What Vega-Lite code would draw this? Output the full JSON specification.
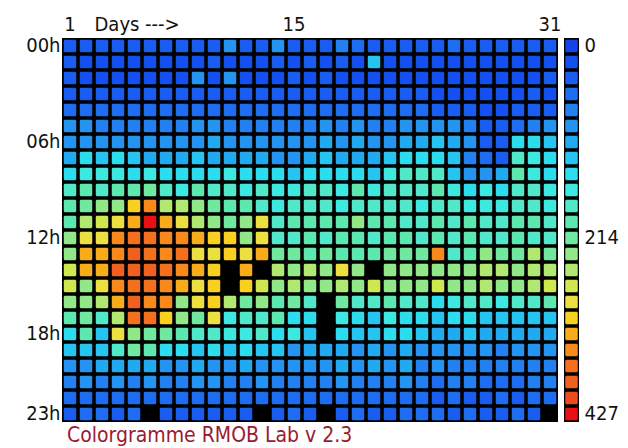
{
"$schema": "https://vega.github.io/schema/vega-lite/v6.json",
"background": "white",
"padding": {"left": 25, "top": 14, "right": 5, "bottom": 5},
"config": {"view": {"stroke": null}, "concat": {"spacing": 3},
  "axis": {"labelFont": "DejaVu Sans Condensed, Liberation Sans, sans-serif", "labelFontSize": 20, "labelColor": "#111111", "ticks": false, "domain": false, "grid": false, "titleFont": "DejaVu Sans Condensed, Liberation Sans, sans-serif", "titleFontSize": 20, "titleFontWeight": "normal", "titleColor": "#111111"}},
"datasets": {
"scale": [{"i":0,"v":0},{"i":1,"v":19},{"i":2,"v":37},{"i":3,"v":56},{"i":4,"v":74},{"i":5,"v":93},{"i":6,"v":111},{"i":7,"v":130},{"i":8,"v":149},{"i":9,"v":167},{"i":10,"v":186},{"i":11,"v":204},{"i":12,"v":223},{"i":13,"v":241},{"i":14,"v":260},{"i":15,"v":278},{"i":16,"v":297},{"i":17,"v":316},{"i":18,"v":334},{"i":19,"v":353},{"i":20,"v":371},{"i":21,"v":390},{"i":22,"v":408},{"i":23,"v":427}],
"cells": [
{"d":1,"h":0,"c":44},{"d":2,"h":0,"c":44},{"d":3,"h":0,"c":44},{"d":4,"h":0,"c":44},{"d":5,"h":0,"c":44},{"d":6,"h":0,"c":44},{"d":7,"h":0,"c":44},{"d":8,"h":0,"c":44},{"d":9,"h":0,"c":44},{"d":10,"h":0,"c":44},{"d":11,"h":0,"c":98},{"d":12,"h":0,"c":44},{"d":13,"h":0,"c":44},{"d":14,"h":0,"c":98},{"d":15,"h":0,"c":44},{"d":16,"h":0,"c":44},{"d":17,"h":0,"c":44},{"d":18,"h":0,"c":80},{"d":19,"h":0,"c":62},{"d":20,"h":0,"c":44},{"d":21,"h":0,"c":44},{"d":22,"h":0,"c":44},{"d":23,"h":0,"c":44},{"d":24,"h":0,"c":44},{"d":25,"h":0,"c":62},{"d":26,"h":0,"c":44},{"d":27,"h":0,"c":44},{"d":28,"h":0,"c":44},{"d":29,"h":0,"c":44},{"d":30,"h":0,"c":44},{"d":31,"h":0,"c":44},
{"d":1,"h":1,"c":44},{"d":2,"h":1,"c":27},{"d":3,"h":1,"c":27},{"d":4,"h":1,"c":27},{"d":5,"h":1,"c":27},{"d":6,"h":1,"c":27},{"d":7,"h":1,"c":27},{"d":8,"h":1,"c":27},{"d":9,"h":1,"c":27},{"d":10,"h":1,"c":44},{"d":11,"h":1,"c":27},{"d":12,"h":1,"c":27},{"d":13,"h":1,"c":27},{"d":14,"h":1,"c":44},{"d":15,"h":1,"c":27},{"d":16,"h":1,"c":44},{"d":17,"h":1,"c":27},{"d":18,"h":1,"c":44},{"d":19,"h":1,"c":27},{"d":20,"h":1,"c":133},{"d":21,"h":1,"c":27},{"d":22,"h":1,"c":27},{"d":23,"h":1,"c":27},{"d":24,"h":1,"c":27},{"d":25,"h":1,"c":27},{"d":26,"h":1,"c":27},{"d":27,"h":1,"c":27},{"d":28,"h":1,"c":27},{"d":29,"h":1,"c":27},{"d":30,"h":1,"c":27},{"d":31,"h":1,"c":27},
{"d":1,"h":2,"c":44},{"d":2,"h":2,"c":27},{"d":3,"h":2,"c":27},{"d":4,"h":2,"c":27},{"d":5,"h":2,"c":27},{"d":6,"h":2,"c":27},{"d":7,"h":2,"c":27},{"d":8,"h":2,"c":27},{"d":9,"h":2,"c":98},{"d":10,"h":2,"c":27},{"d":11,"h":2,"c":98},{"d":12,"h":2,"c":27},{"d":13,"h":2,"c":27},{"d":14,"h":2,"c":27},{"d":15,"h":2,"c":44},{"d":16,"h":2,"c":27},{"d":17,"h":2,"c":44},{"d":18,"h":2,"c":27},{"d":19,"h":2,"c":27},{"d":20,"h":2,"c":27},{"d":21,"h":2,"c":27},{"d":22,"h":2,"c":27},{"d":23,"h":2,"c":27},{"d":24,"h":2,"c":27},{"d":25,"h":2,"c":27},{"d":26,"h":2,"c":27},{"d":27,"h":2,"c":27},{"d":28,"h":2,"c":27},{"d":29,"h":2,"c":27},{"d":30,"h":2,"c":27},{"d":31,"h":2,"c":44},
{"d":1,"h":3,"c":44},{"d":2,"h":3,"c":44},{"d":3,"h":3,"c":44},{"d":4,"h":3,"c":44},{"d":5,"h":3,"c":44},{"d":6,"h":3,"c":44},{"d":7,"h":3,"c":44},{"d":8,"h":3,"c":44},{"d":9,"h":3,"c":44},{"d":10,"h":3,"c":44},{"d":11,"h":3,"c":44},{"d":12,"h":3,"c":44},{"d":13,"h":3,"c":44},{"d":14,"h":3,"c":44},{"d":15,"h":3,"c":44},{"d":16,"h":3,"c":44},{"d":17,"h":3,"c":44},{"d":18,"h":3,"c":44},{"d":19,"h":3,"c":44},{"d":20,"h":3,"c":44},{"d":21,"h":3,"c":44},{"d":22,"h":3,"c":44},{"d":23,"h":3,"c":44},{"d":24,"h":3,"c":27},{"d":25,"h":3,"c":27},{"d":26,"h":3,"c":27},{"d":27,"h":3,"c":27},{"d":28,"h":3,"c":27},{"d":29,"h":3,"c":27},{"d":30,"h":3,"c":44},{"d":31,"h":3,"c":27},
{"d":1,"h":4,"c":62},{"d":2,"h":4,"c":62},{"d":3,"h":4,"c":62},{"d":4,"h":4,"c":62},{"d":5,"h":4,"c":62},{"d":6,"h":4,"c":62},{"d":7,"h":4,"c":62},{"d":8,"h":4,"c":62},{"d":9,"h":4,"c":62},{"d":10,"h":4,"c":62},{"d":11,"h":4,"c":62},{"d":12,"h":4,"c":62},{"d":13,"h":4,"c":62},{"d":14,"h":4,"c":62},{"d":15,"h":4,"c":62},{"d":16,"h":4,"c":62},{"d":17,"h":4,"c":62},{"d":18,"h":4,"c":62},{"d":19,"h":4,"c":62},{"d":20,"h":4,"c":62},{"d":21,"h":4,"c":62},{"d":22,"h":4,"c":62},{"d":23,"h":4,"c":62},{"d":24,"h":4,"c":44},{"d":25,"h":4,"c":44},{"d":26,"h":4,"c":44},{"d":27,"h":4,"c":27},{"d":28,"h":4,"c":27},{"d":29,"h":4,"c":44},{"d":30,"h":4,"c":44},{"d":31,"h":4,"c":44},
{"d":1,"h":5,"c":98},{"d":2,"h":5,"c":98},{"d":3,"h":5,"c":80},{"d":4,"h":5,"c":80},{"d":5,"h":5,"c":80},{"d":6,"h":5,"c":80},{"d":7,"h":5,"c":80},{"d":8,"h":5,"c":80},{"d":9,"h":5,"c":98},{"d":10,"h":5,"c":98},{"d":11,"h":5,"c":80},{"d":12,"h":5,"c":80},{"d":13,"h":5,"c":80},{"d":14,"h":5,"c":80},{"d":15,"h":5,"c":80},{"d":16,"h":5,"c":80},{"d":17,"h":5,"c":98},{"d":18,"h":5,"c":80},{"d":19,"h":5,"c":98},{"d":20,"h":5,"c":80},{"d":21,"h":5,"c":80},{"d":22,"h":5,"c":98},{"d":23,"h":5,"c":98},{"d":24,"h":5,"c":98},{"d":25,"h":5,"c":98},{"d":26,"h":5,"c":80},{"d":27,"h":5,"c":44},{"d":28,"h":5,"c":44},{"d":29,"h":5,"c":62},{"d":30,"h":5,"c":80},{"d":31,"h":5,"c":98},
{"d":1,"h":6,"c":98},{"d":2,"h":6,"c":98},{"d":3,"h":6,"c":98},{"d":4,"h":6,"c":98},{"d":5,"h":6,"c":98},{"d":6,"h":6,"c":98},{"d":7,"h":6,"c":98},{"d":8,"h":6,"c":98},{"d":9,"h":6,"c":98},{"d":10,"h":6,"c":116},{"d":11,"h":6,"c":98},{"d":12,"h":6,"c":98},{"d":13,"h":6,"c":98},{"d":14,"h":6,"c":98},{"d":15,"h":6,"c":98},{"d":16,"h":6,"c":98},{"d":17,"h":6,"c":116},{"d":18,"h":6,"c":98},{"d":19,"h":6,"c":116},{"d":20,"h":6,"c":98},{"d":21,"h":6,"c":98},{"d":22,"h":6,"c":116},{"d":23,"h":6,"c":116},{"d":24,"h":6,"c":133},{"d":25,"h":6,"c":116},{"d":26,"h":6,"c":98},{"d":27,"h":6,"c":44},{"d":28,"h":6,"c":44},{"d":29,"h":6,"c":151},{"d":30,"h":6,"c":151},{"d":31,"h":6,"c":133},
{"d":1,"h":7,"c":116},{"d":2,"h":7,"c":151},{"d":3,"h":7,"c":133},{"d":4,"h":7,"c":151},{"d":5,"h":7,"c":133},{"d":6,"h":7,"c":116},{"d":7,"h":7,"c":116},{"d":8,"h":7,"c":116},{"d":9,"h":7,"c":133},{"d":10,"h":7,"c":116},{"d":11,"h":7,"c":116},{"d":12,"h":7,"c":116},{"d":13,"h":7,"c":116},{"d":14,"h":7,"c":98},{"d":15,"h":7,"c":98},{"d":16,"h":7,"c":116},{"d":17,"h":7,"c":133},{"d":18,"h":7,"c":116},{"d":19,"h":7,"c":116},{"d":20,"h":7,"c":116},{"d":21,"h":7,"c":133},{"d":22,"h":7,"c":151},{"d":23,"h":7,"c":151},{"d":24,"h":7,"c":151},{"d":25,"h":7,"c":133},{"d":26,"h":7,"c":80},{"d":27,"h":7,"c":62},{"d":28,"h":7,"c":44},{"d":29,"h":7,"c":187},{"d":30,"h":7,"c":169},{"d":31,"h":7,"c":151},
{"d":1,"h":8,"c":151},{"d":2,"h":8,"c":169},{"d":3,"h":8,"c":169},{"d":4,"h":8,"c":169},{"d":5,"h":8,"c":151},{"d":6,"h":8,"c":169},{"d":7,"h":8,"c":151},{"d":8,"h":8,"c":151},{"d":9,"h":8,"c":151},{"d":10,"h":8,"c":151},{"d":11,"h":8,"c":169},{"d":12,"h":8,"c":151},{"d":13,"h":8,"c":151},{"d":14,"h":8,"c":151},{"d":15,"h":8,"c":133},{"d":16,"h":8,"c":151},{"d":17,"h":8,"c":151},{"d":18,"h":8,"c":151},{"d":19,"h":8,"c":151},{"d":20,"h":8,"c":133},{"d":21,"h":8,"c":169},{"d":22,"h":8,"c":187},{"d":23,"h":8,"c":187},{"d":24,"h":8,"c":187},{"d":25,"h":8,"c":133},{"d":26,"h":8,"c":98},{"d":27,"h":8,"c":98},{"d":28,"h":8,"c":116},{"d":29,"h":8,"c":205},{"d":30,"h":8,"c":169},{"d":31,"h":8,"c":151},
{"d":1,"h":9,"c":187},{"d":2,"h":9,"c":205},{"d":3,"h":9,"c":187},{"d":4,"h":9,"c":205},{"d":5,"h":9,"c":205},{"d":6,"h":9,"c":222},{"d":7,"h":9,"c":187},{"d":8,"h":9,"c":169},{"d":9,"h":9,"c":205},{"d":10,"h":9,"c":187},{"d":11,"h":9,"c":187},{"d":12,"h":9,"c":169},{"d":13,"h":9,"c":187},{"d":14,"h":9,"c":169},{"d":15,"h":9,"c":169},{"d":16,"h":9,"c":187},{"d":17,"h":9,"c":187},{"d":18,"h":9,"c":169},{"d":19,"h":9,"c":205},{"d":20,"h":9,"c":169},{"d":21,"h":9,"c":187},{"d":22,"h":9,"c":187},{"d":23,"h":9,"c":187},{"d":24,"h":9,"c":205},{"d":25,"h":9,"c":169},{"d":26,"h":9,"c":151},{"d":27,"h":9,"c":169},{"d":28,"h":9,"c":151},{"d":29,"h":9,"c":187},{"d":30,"h":9,"c":187},{"d":31,"h":9,"c":169},
{"d":1,"h":10,"c":205},{"d":2,"h":10,"c":222},{"d":3,"h":10,"c":240},{"d":4,"h":10,"c":240},{"d":5,"h":10,"c":311},{"d":6,"h":10,"c":347},{"d":7,"h":10,"c":258},{"d":8,"h":10,"c":258},{"d":9,"h":10,"c":240},{"d":10,"h":10,"c":222},{"d":11,"h":10,"c":205},{"d":12,"h":10,"c":205},{"d":13,"h":10,"c":187},{"d":14,"h":10,"c":169},{"d":15,"h":10,"c":187},{"d":16,"h":10,"c":187},{"d":17,"h":10,"c":187},{"d":18,"h":10,"c":169},{"d":19,"h":10,"c":187},{"d":20,"h":10,"c":187},{"d":21,"h":10,"c":187},{"d":22,"h":10,"c":187},{"d":23,"h":10,"c":169},{"d":24,"h":10,"c":187},{"d":25,"h":10,"c":187},{"d":26,"h":10,"c":169},{"d":27,"h":10,"c":169},{"d":28,"h":10,"c":169},{"d":29,"h":10,"c":187},{"d":30,"h":10,"c":187},{"d":31,"h":10,"c":169},
{"d":1,"h":11,"c":205},{"d":2,"h":11,"c":258},{"d":3,"h":11,"c":276},{"d":4,"h":11,"c":294},{"d":5,"h":11,"c":329},{"d":6,"h":11,"c":418},{"d":7,"h":11,"c":329},{"d":8,"h":11,"c":294},{"d":9,"h":11,"c":258},{"d":10,"h":11,"c":240},{"d":11,"h":11,"c":222},{"d":12,"h":11,"c":240},{"d":13,"h":11,"c":294},{"d":14,"h":11,"c":187},{"d":15,"h":11,"c":205},{"d":16,"h":11,"c":205},{"d":17,"h":11,"c":205},{"d":18,"h":11,"c":205},{"d":19,"h":11,"c":240},{"d":20,"h":11,"c":205},{"d":21,"h":11,"c":205},{"d":22,"h":11,"c":187},{"d":23,"h":11,"c":187},{"d":24,"h":11,"c":205},{"d":25,"h":11,"c":187},{"d":26,"h":11,"c":205},{"d":27,"h":11,"c":187},{"d":28,"h":11,"c":187},{"d":29,"h":11,"c":205},{"d":30,"h":11,"c":205},{"d":31,"h":11,"c":187},
{"d":1,"h":12,"c":240},{"d":2,"h":12,"c":294},{"d":3,"h":12,"c":294},{"d":4,"h":12,"c":347},{"d":5,"h":12,"c":365},{"d":6,"h":12,"c":365},{"d":7,"h":12,"c":347},{"d":8,"h":12,"c":347},{"d":9,"h":12,"c":329},{"d":10,"h":12,"c":311},{"d":11,"h":12,"c":311},{"d":12,"h":12,"c":240},{"d":13,"h":12,"c":294},{"d":14,"h":12,"c":187},{"d":15,"h":12,"c":187},{"d":16,"h":12,"c":205},{"d":17,"h":12,"c":187},{"d":18,"h":12,"c":205},{"d":19,"h":12,"c":205},{"d":20,"h":12,"c":187},{"d":21,"h":12,"c":205},{"d":22,"h":12,"c":205},{"d":23,"h":12,"c":187},{"d":24,"h":12,"c":205},{"d":25,"h":12,"c":187},{"d":26,"h":12,"c":205},{"d":27,"h":12,"c":187},{"d":28,"h":12,"c":187},{"d":29,"h":12,"c":205},{"d":30,"h":12,"c":187},{"d":31,"h":12,"c":187},
{"d":1,"h":13,"c":240},{"d":2,"h":13,"c":329},{"d":3,"h":13,"c":329},{"d":4,"h":13,"c":347},{"d":5,"h":13,"c":383},{"d":6,"h":13,"c":365},{"d":7,"h":13,"c":347},{"d":8,"h":13,"c":365},{"d":9,"h":13,"c":294},{"d":10,"h":13,"c":294},{"d":11,"h":13,"c":311},{"d":12,"h":13,"c":294},{"d":13,"h":13,"c":329},{"d":14,"h":13,"c":222},{"d":15,"h":13,"c":222},{"d":16,"h":13,"c":205},{"d":17,"h":13,"c":222},{"d":18,"h":13,"c":205},{"d":19,"h":13,"c":205},{"d":20,"h":13,"c":205},{"d":21,"h":13,"c":222},{"d":22,"h":13,"c":222},{"d":23,"h":13,"c":222},{"d":24,"h":13,"c":347},{"d":25,"h":13,"c":187},{"d":26,"h":13,"c":205},{"d":27,"h":13,"c":240},{"d":28,"h":13,"c":222},{"d":29,"h":13,"c":222},{"d":30,"h":13,"c":258},{"d":31,"h":13,"c":222},
{"d":1,"h":14,"c":276},{"d":2,"h":14,"c":329},{"d":3,"h":14,"c":329},{"d":4,"h":14,"c":383},{"d":5,"h":14,"c":383},{"d":6,"h":14,"c":383},{"d":7,"h":14,"c":365},{"d":8,"h":14,"c":347},{"d":9,"h":14,"c":329},{"d":10,"h":14,"c":311},{"d":11,"h":14,"c":null},{"d":12,"h":14,"c":329},{"d":13,"h":14,"c":null},{"d":14,"h":14,"c":258},{"d":15,"h":14,"c":240},{"d":16,"h":14,"c":258},{"d":17,"h":14,"c":240},{"d":18,"h":14,"c":294},{"d":19,"h":14,"c":240},{"d":20,"h":14,"c":null},{"d":21,"h":14,"c":240},{"d":22,"h":14,"c":240},{"d":23,"h":14,"c":240},{"d":24,"h":14,"c":240},{"d":25,"h":14,"c":240},{"d":26,"h":14,"c":240},{"d":27,"h":14,"c":258},{"d":28,"h":14,"c":258},{"d":29,"h":14,"c":240},{"d":30,"h":14,"c":258},{"d":31,"h":14,"c":258},
{"d":1,"h":15,"c":276},{"d":2,"h":15,"c":240},{"d":3,"h":15,"c":294},{"d":4,"h":15,"c":347},{"d":5,"h":15,"c":365},{"d":6,"h":15,"c":365},{"d":7,"h":15,"c":347},{"d":8,"h":15,"c":329},{"d":9,"h":15,"c":294},{"d":10,"h":15,"c":311},{"d":11,"h":15,"c":null},{"d":12,"h":15,"c":311},{"d":13,"h":15,"c":276},{"d":14,"h":15,"c":240},{"d":15,"h":15,"c":258},{"d":16,"h":15,"c":240},{"d":17,"h":15,"c":240},{"d":18,"h":15,"c":258},{"d":19,"h":15,"c":240},{"d":20,"h":15,"c":276},{"d":21,"h":15,"c":240},{"d":22,"h":15,"c":240},{"d":23,"h":15,"c":240},{"d":24,"h":15,"c":276},{"d":25,"h":15,"c":240},{"d":26,"h":15,"c":240},{"d":27,"h":15,"c":258},{"d":28,"h":15,"c":240},{"d":29,"h":15,"c":240},{"d":30,"h":15,"c":258},{"d":31,"h":15,"c":276},
{"d":1,"h":16,"c":240},{"d":2,"h":16,"c":240},{"d":3,"h":16,"c":258},{"d":4,"h":16,"c":329},{"d":5,"h":16,"c":383},{"d":6,"h":16,"c":347},{"d":7,"h":16,"c":347},{"d":8,"h":16,"c":240},{"d":9,"h":16,"c":294},{"d":10,"h":16,"c":311},{"d":11,"h":16,"c":258},{"d":12,"h":16,"c":222},{"d":13,"h":16,"c":240},{"d":14,"h":16,"c":205},{"d":15,"h":16,"c":222},{"d":16,"h":16,"c":187},{"d":17,"h":16,"c":null},{"d":18,"h":16,"c":222},{"d":19,"h":16,"c":187},{"d":20,"h":16,"c":187},{"d":21,"h":16,"c":205},{"d":22,"h":16,"c":187},{"d":23,"h":16,"c":187},{"d":24,"h":16,"c":151},{"d":25,"h":16,"c":169},{"d":26,"h":16,"c":187},{"d":27,"h":16,"c":187},{"d":28,"h":16,"c":169},{"d":29,"h":16,"c":187},{"d":30,"h":16,"c":187},{"d":31,"h":16,"c":205},
{"d":1,"h":17,"c":205},{"d":2,"h":17,"c":222},{"d":3,"h":17,"c":187},{"d":4,"h":17,"c":258},{"d":5,"h":17,"c":365},{"d":6,"h":17,"c":365},{"d":7,"h":17,"c":311},{"d":8,"h":17,"c":240},{"d":9,"h":17,"c":222},{"d":10,"h":17,"c":294},{"d":11,"h":17,"c":169},{"d":12,"h":17,"c":187},{"d":13,"h":17,"c":187},{"d":14,"h":17,"c":205},{"d":15,"h":17,"c":151},{"d":16,"h":17,"c":151},{"d":17,"h":17,"c":null},{"d":18,"h":17,"c":169},{"d":19,"h":17,"c":151},{"d":20,"h":17,"c":133},{"d":21,"h":17,"c":169},{"d":22,"h":17,"c":151},{"d":23,"h":17,"c":151},{"d":24,"h":17,"c":133},{"d":25,"h":17,"c":151},{"d":26,"h":17,"c":151},{"d":27,"h":17,"c":133},{"d":28,"h":17,"c":133},{"d":29,"h":17,"c":133},{"d":30,"h":17,"c":133},{"d":31,"h":17,"c":133},
{"d":1,"h":18,"c":151},{"d":2,"h":18,"c":205},{"d":3,"h":18,"c":133},{"d":4,"h":18,"c":294},{"d":5,"h":18,"c":240},{"d":6,"h":18,"c":222},{"d":7,"h":18,"c":222},{"d":8,"h":18,"c":205},{"d":9,"h":18,"c":187},{"d":10,"h":18,"c":187},{"d":11,"h":18,"c":169},{"d":12,"h":18,"c":169},{"d":13,"h":18,"c":187},{"d":14,"h":18,"c":151},{"d":15,"h":18,"c":169},{"d":16,"h":18,"c":133},{"d":17,"h":18,"c":null},{"d":18,"h":18,"c":151},{"d":19,"h":18,"c":133},{"d":20,"h":18,"c":133},{"d":21,"h":18,"c":151},{"d":22,"h":18,"c":151},{"d":23,"h":18,"c":133},{"d":24,"h":18,"c":116},{"d":25,"h":18,"c":116},{"d":26,"h":18,"c":133},{"d":27,"h":18,"c":116},{"d":28,"h":18,"c":116},{"d":29,"h":18,"c":116},{"d":30,"h":18,"c":116},{"d":31,"h":18,"c":116},
{"d":1,"h":19,"c":133},{"d":2,"h":19,"c":133},{"d":3,"h":19,"c":133},{"d":4,"h":19,"c":187},{"d":5,"h":19,"c":222},{"d":6,"h":19,"c":205},{"d":7,"h":19,"c":151},{"d":8,"h":19,"c":151},{"d":9,"h":19,"c":133},{"d":10,"h":19,"c":151},{"d":11,"h":19,"c":133},{"d":12,"h":19,"c":151},{"d":13,"h":19,"c":133},{"d":14,"h":19,"c":133},{"d":15,"h":19,"c":98},{"d":16,"h":19,"c":116},{"d":17,"h":19,"c":116},{"d":18,"h":19,"c":116},{"d":19,"h":19,"c":98},{"d":20,"h":19,"c":116},{"d":21,"h":19,"c":98},{"d":22,"h":19,"c":116},{"d":23,"h":19,"c":98},{"d":24,"h":19,"c":98},{"d":25,"h":19,"c":98},{"d":26,"h":19,"c":98},{"d":27,"h":19,"c":98},{"d":28,"h":19,"c":80},{"d":29,"h":19,"c":98},{"d":30,"h":19,"c":98},{"d":31,"h":19,"c":98},
{"d":1,"h":20,"c":98},{"d":2,"h":20,"c":98},{"d":3,"h":20,"c":116},{"d":4,"h":20,"c":116},{"d":5,"h":20,"c":116},{"d":6,"h":20,"c":116},{"d":7,"h":20,"c":98},{"d":8,"h":20,"c":98},{"d":9,"h":20,"c":116},{"d":10,"h":20,"c":98},{"d":11,"h":20,"c":98},{"d":12,"h":20,"c":116},{"d":13,"h":20,"c":98},{"d":14,"h":20,"c":98},{"d":15,"h":20,"c":98},{"d":16,"h":20,"c":98},{"d":17,"h":20,"c":98},{"d":18,"h":20,"c":116},{"d":19,"h":20,"c":98},{"d":20,"h":20,"c":116},{"d":21,"h":20,"c":98},{"d":22,"h":20,"c":116},{"d":23,"h":20,"c":80},{"d":24,"h":20,"c":98},{"d":25,"h":20,"c":80},{"d":26,"h":20,"c":80},{"d":27,"h":20,"c":80},{"d":28,"h":20,"c":80},{"d":29,"h":20,"c":80},{"d":30,"h":20,"c":80},{"d":31,"h":20,"c":80},
{"d":1,"h":21,"c":80},{"d":2,"h":21,"c":98},{"d":3,"h":21,"c":80},{"d":4,"h":21,"c":98},{"d":5,"h":21,"c":80},{"d":6,"h":21,"c":98},{"d":7,"h":21,"c":80},{"d":8,"h":21,"c":80},{"d":9,"h":21,"c":98},{"d":10,"h":21,"c":98},{"d":11,"h":21,"c":80},{"d":12,"h":21,"c":80},{"d":13,"h":21,"c":98},{"d":14,"h":21,"c":80},{"d":15,"h":21,"c":80},{"d":16,"h":21,"c":80},{"d":17,"h":21,"c":80},{"d":18,"h":21,"c":98},{"d":19,"h":21,"c":80},{"d":20,"h":21,"c":80},{"d":21,"h":21,"c":80},{"d":22,"h":21,"c":98},{"d":23,"h":21,"c":80},{"d":24,"h":21,"c":62},{"d":25,"h":21,"c":80},{"d":26,"h":21,"c":80},{"d":27,"h":21,"c":62},{"d":28,"h":21,"c":62},{"d":29,"h":21,"c":62},{"d":30,"h":21,"c":80},{"d":31,"h":21,"c":80},
{"d":1,"h":22,"c":62},{"d":2,"h":22,"c":62},{"d":3,"h":22,"c":62},{"d":4,"h":22,"c":62},{"d":5,"h":22,"c":62},{"d":6,"h":22,"c":62},{"d":7,"h":22,"c":62},{"d":8,"h":22,"c":62},{"d":9,"h":22,"c":62},{"d":10,"h":22,"c":62},{"d":11,"h":22,"c":62},{"d":12,"h":22,"c":62},{"d":13,"h":22,"c":62},{"d":14,"h":22,"c":62},{"d":15,"h":22,"c":62},{"d":16,"h":22,"c":62},{"d":17,"h":22,"c":62},{"d":18,"h":22,"c":62},{"d":19,"h":22,"c":62},{"d":20,"h":22,"c":62},{"d":21,"h":22,"c":62},{"d":22,"h":22,"c":62},{"d":23,"h":22,"c":62},{"d":24,"h":22,"c":44},{"d":25,"h":22,"c":62},{"d":26,"h":22,"c":44},{"d":27,"h":22,"c":44},{"d":28,"h":22,"c":62},{"d":29,"h":22,"c":44},{"d":30,"h":22,"c":62},{"d":31,"h":22,"c":62},
{"d":1,"h":23,"c":44},{"d":2,"h":23,"c":62},{"d":3,"h":23,"c":62},{"d":4,"h":23,"c":44},{"d":5,"h":23,"c":62},{"d":6,"h":23,"c":null},{"d":7,"h":23,"c":44},{"d":8,"h":23,"c":44},{"d":9,"h":23,"c":44},{"d":10,"h":23,"c":44},{"d":11,"h":23,"c":44},{"d":12,"h":23,"c":44},{"d":13,"h":23,"c":null},{"d":14,"h":23,"c":44},{"d":15,"h":23,"c":62},{"d":16,"h":23,"c":44},{"d":17,"h":23,"c":null},{"d":18,"h":23,"c":44},{"d":19,"h":23,"c":62},{"d":20,"h":23,"c":44},{"d":21,"h":23,"c":44},{"d":22,"h":23,"c":62},{"d":23,"h":23,"c":62},{"d":24,"h":23,"c":62},{"d":25,"h":23,"c":44},{"d":26,"h":23,"c":62},{"d":27,"h":23,"c":44},{"d":28,"h":23,"c":44},{"d":29,"h":23,"c":62},{"d":30,"h":23,"c":44},{"d":31,"h":23,"c":null}
]},
"hconcat": [
{
"width": 496, "height": 384,
"view": {"fill": "#000000", "stroke": null},
"title": {"text": "Colorgramme RMOB Lab v 2.3", "orient": "bottom", "anchor": "start", "frame": "group", "color": "#9b1b30", "font": "DejaVu Sans Condensed, Liberation Sans, sans-serif", "fontSize": 21, "fontWeight": "normal", "offset": 1, "dx": 5},
"data": {"name": "cells"},
"mark": {"type": "rect", "cornerRadius": 1.5, "invalid": "filter"},
"encoding": {
"x": {"field": "d", "type": "ordinal", "sort": "ascending", "scale": {"paddingInner": 0.22, "paddingOuter": 0.11},
 "axis": {"orient": "top", "labelAngle": 0, "labelPadding": 4, "labelExpr": "datum.value == 1 || datum.value == 15 || datum.value == 31 ? datum.label : ''", "title": "Days --->", "titleX": 32, "titleY": -4, "titleAlign": "left", "titleBaseline": "bottom", "titleAnchor": null}},
"y": {"field": "h", "type": "ordinal", "sort": "ascending", "scale": {"paddingInner": 0.22, "paddingOuter": 0.11},
 "axis": {"title": null, "labelPadding": 2, "labelExpr": "indexof([0,6,12,18,23], datum.value) >= 0 ? (datum.value < 10 ? '0' : '') + datum.value + 'h' : ''"}},
"color": {"field": "c", "type": "quantitative", "legend": null,
 "scale": {"type": "quantize", "domain": [0, 427], "range": ["#1244e6","#1450f0","#1a5cf0","#1e6cf0","#2280f0","#2494f0","#22aaf0","#26c4f0","#2edcf0","#3ce8e0","#50e8c8","#5ee8b0","#70e8a0","#90e888","#b0e870","#d0e850","#ece040","#f8d020","#f8ac1a","#f88a1c","#f4701e","#f0601e","#ec4c1c","#e81010"]}}
}
},
{
"width": 15, "height": 384,
"view": {"fill": "#000000", "stroke": null},
"data": {"name": "scale"},
"mark": {"type": "rect", "cornerRadius": 1.5},
"encoding": {
"x": {"datum": "a", "type": "nominal", "scale": {"paddingInner": 0, "paddingOuter": 0.1}, "axis": null},
"y": {"field": "i", "type": "ordinal", "sort": "ascending", "scale": {"paddingInner": 0.22, "paddingOuter": 0.11},
 "axis": {"orient": "right", "title": null, "labelPadding": 5, "labelExpr": "datum.value == 0 ? '0' : datum.value == 12 ? '214' : datum.value == 23 ? '427' : ''"}},
"color": {"field": "v", "type": "quantitative", "legend": null,
 "scale": {"type": "quantize", "domain": [0, 427], "range": ["#1244e6","#1450f0","#1a5cf0","#1e6cf0","#2280f0","#2494f0","#22aaf0","#26c4f0","#2edcf0","#3ce8e0","#50e8c8","#5ee8b0","#70e8a0","#90e888","#b0e870","#d0e850","#ece040","#f8d020","#f8ac1a","#f88a1c","#f4701e","#f0601e","#ec4c1c","#e81010"]}}
}
}
],
"resolve": {"scale": {"y": "independent", "x": "independent"}}
}
